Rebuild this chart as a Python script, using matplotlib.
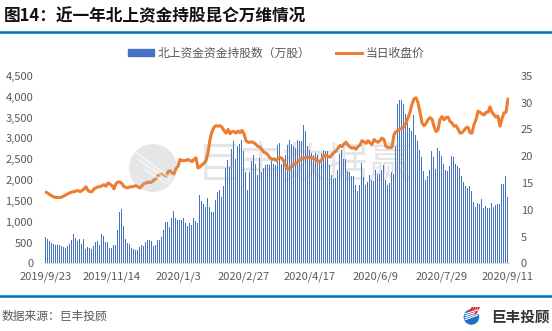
import matplotlib
matplotlib.use("Agg")
import matplotlib.pyplot as plt
from matplotlib.patches import Circle, Rectangle
from matplotlib.lines import Line2D
from matplotlib.ticker import FuncFormatter

plt.rcParams['font.family'] = ['Noto Sans CJK SC', 'DejaVu Sans']

# daily northbound holdings (10k shares), 2019/9/23 .. 2020/9/11
holdings = [
    645, 590, 540, 495, 470, 445, 445, 445, 420, 400,
    375, 420, 470, 565, 710, 610, 540, 590, 470, 590,
    350, 400, 375, 350, 420, 520, 540, 445, 710, 665,
    520, 520, 375, 375, 445, 445, 810, 1240, 1310, 900,
    590, 495, 470, 375, 350, 325, 325, 400, 445, 420,
    520, 565, 565, 540, 420, 445, 565, 565, 640, 810,
    1000, 1000, 880, 1095, 1270, 1095, 1045, 1045, 1045, 1095,
    975, 905, 975, 925, 1095, 1020, 975, 1650,
    1500, 1430, 1360, 1575, 1360, 1240, 1240, 1530, 1720, 1770,
    1600, 1865, 2300, 2490, 2320, 2755, 2925, 2515, 2805, 2875,
    2970, 2705, 2200, 1770, 2200, 2465, 2610, 2395, 2130, 2540,
    2200, 2300, 2370, 2395, 2370, 2465, 2395, 2370, 2850, 2900,
    2395, 2515, 2610, 2850, 2970, 2875, 2825, 2780, 2970, 2945,
    2945, 3310, 3165, 2805, 2730, 2660, 2610, 2660, 2610, 2465,
    2660, 2730, 2685, 2685, 2370, 2130, 2035, 2055, 2250, 2635,
    2730, 2515, 2515, 2225, 2200,
    2105, 2105, 1890, 1745, 1890, 2410, 2075, 1890, 1960, 2130,
    2010, 1985, 2250, 2155, 2155, 2250, 2370, 2010, 1880, 1930,
    2200, 2155, 2810, 3815, 3910, 3910, 3815, 3575, 3375, 3250,
    3165, 3550, 3090, 2930, 2715, 2555, 2225, 2010, 2105, 2250,
    2685, 2555, 2275, 2770, 2685, 2585, 2380, 2250, 2220, 2330,
    2585, 2555, 2380, 2330, 2300, 2105, 1960, 1850, 1800, 1865,
    1745, 1470, 1365, 1450, 1425, 1545, 1335, 1385, 1335, 1335,
    1450, 1365, 1400, 1430, 1430, 1905, 1905, 2105, 1600,
]

# closing price (yuan)
close_price = [
    13.3, 13.1, 12.8, 12.6, 12.4, 12.3, 12.3, 12.3, 12.4, 12.6,
    12.8, 13.0, 13.2, 13.3, 13.4, 13.5, 13.6, 13.4, 13.6, 13.9,
    14.3, 13.6, 13.4, 13.4, 13.9, 14.1, 14.3, 14.3, 14.5, 14.7,
    14.4, 15.0, 14.8, 14.5, 13.9, 14.9, 15.2, 15.2, 14.9, 14.3,
    14.2, 14.1, 14.3, 14.3, 14.4, 14.5, 14.3, 14.1, 14.5, 14.9,
    15.0, 15.2, 15.1, 15.2, 15.6, 15.8, 16.4, 16.6, 16.7, 16.4,
    16.2, 17.1, 17.3, 16.9, 16.7, 17.7, 18.1, 19.4, 19.2, 19.2,
    19.2, 19.4, 19.2, 19.0, 19.4, 19.7, 17.8, 18.0,
    18.4, 18.7, 19.2, 20.6, 23.1, 24.6, 25.4, 25.7, 25.6, 25.7,
    25.4, 24.8, 24.3, 25.0, 24.2, 24.6, 24.6, 24.3, 24.7, 24.4,
    24.8, 24.2, 22.9, 22.6, 22.6, 22.7, 22.5, 22.2, 21.8, 21.7,
    21.2, 20.7, 20.6, 20.2, 19.7, 19.4, 19.5, 19.2, 19.6, 19.8,
    19.6, 19.0, 18.1, 17.6, 17.8, 18.1, 18.5, 18.7, 19.0, 19.4,
    19.5, 19.7, 19.8, 19.8, 19.8, 19.7, 19.5, 19.4, 19.1, 19.0,
    19.5, 20.1, 20.2, 20.0, 19.8, 20.3, 20.7, 21.0, 21.5, 22.0,
    21.8, 22.3, 22.6, 22.1, 21.7,
    21.5, 21.6, 21.3, 21.8, 22.1, 22.9, 22.7, 22.4, 22.9, 22.5,
    22.2, 23.1, 22.8, 22.6, 22.9, 23.4, 23.1, 21.8, 21.6, 21.6,
    21.7, 24.0, 24.6, 24.8, 25.1, 25.2, 25.6, 26.2, 27.2, 28.2,
    29.7, 30.7, 30.9, 30.0, 28.2, 26.2, 25.7, 26.1, 26.8, 27.2,
    26.9, 25.6, 24.6, 24.9, 26.9, 27.4, 26.8, 27.2, 27.3, 26.5,
    26.2, 25.6, 25.7, 25.1, 24.3, 24.4, 24.8, 25.3, 25.4, 24.4,
    24.3, 25.9, 26.8, 28.4, 28.2, 27.9, 27.7, 28.2, 28.2, 29.2,
    28.2, 27.7, 27.3, 27.5, 25.6, 27.0, 28.1, 28.2, 30.7,
]

date_labels = ['2019/9/23', '2019/11/14', '2020/1/3', '2020/2/27',
               '2020/4/17', '2020/6/9', '2020/7/29', '2020/9/11']
label_step = 33

BLUE = '#4472C4'
ORANGE = '#ED7D31'
GREY = '#595959'

fig = plt.figure(figsize=(5.52, 3.31), dpi=100)
ax = fig.add_axes([0.0815, 0.204, 0.8406, 0.567])

x = list(range(len(holdings)))
ax.bar(x, holdings, width=0.5, color=BLUE, antialiased=False, zorder=2)
ax.set_xlim(-0.5, len(holdings) - 0.5)
ax.set_ylim(0, 4500)
ax.set_yticks(range(0, 4501, 500))
ax.yaxis.set_major_formatter(FuncFormatter(lambda v, p: f'{int(v):,}'))
ax.set_xticks([i * label_step for i in range(len(date_labels))])
ax.set_xticklabels(date_labels)
ax.tick_params(axis='both', length=0, labelsize=8, labelcolor=GREY)
ax.tick_params(axis='y', pad=8.5)
ax.tick_params(axis='x', pad=6)
for side in ['top', 'left', 'right']:
    ax.spines[side].set_visible(False)
ax.spines['bottom'].set_color('#D9D9D9')
ax.spines['bottom'].set_linewidth(0.8)

ax2 = ax.twinx()
ax2.plot(x, close_price, color=ORANGE, lw=2.2, solid_capstyle='round', zorder=3)
ax2.set_ylim(0, 35)
ax2.set_yticks(range(0, 36, 5))
ax2.tick_params(axis='y', length=0, labelsize=8, labelcolor=GREY, pad=8.5)
for side in ['top', 'left', 'right', 'bottom']:
    ax2.spines[side].set_visible(False)

# legend
handles = [Rectangle((0, 0), 1, 1, color=BLUE),
           Line2D([0], [0], color=ORANGE, lw=2.2)]
fig.legend(handles, ['北上资金资金持股数（万股）', '当日收盘价'],
           loc='center', bbox_to_anchor=(0.5, 0.84), ncol=2, frameon=False,
           fontsize=8.5, labelcolor=GREY, handlelength=2.2, handleheight=0.5,
           handletextpad=0.3, columnspacing=2.2)

# header and footer
fig.text(0.006, 0.952, '图14：近一年北上资金持股昆仑万维情况', fontsize=12,
         fontweight='bold', color='#111111', va='center', ha='left')
fig.add_artist(Line2D([0, 1], [0.902, 0.902], color='#0070C0', lw=1.8))
fig.add_artist(Line2D([0, 1], [0.106, 0.106], color='#0070C0', lw=1.8))
fig.text(0.002, 0.045, '数据来源：巨丰投顾', fontsize=8.5, color=GREY,
         va='center', ha='left')
fig.text(0.995, 0.045, '巨丰投顾', fontsize=10.5, fontweight='bold',
         color='#333333', va='center', ha='right')

# small logo mark
logo = fig.add_axes([0.838, 0.012, 0.032, 0.066])
logo.set_xlim(-1, 1)
logo.set_ylim(-1, 1)
logo.set_aspect('equal')
logo.axis('off')
logo.add_patch(Circle((0, -0.1), 0.8, color='#1E6FC8'))
for k in range(4):
    logo.plot([-0.3 + 0.25 * k, 0.1 + 0.25 * k], [0.3, 0.95], color='#E0262B', lw=1.2)
    logo.plot([-0.7, 0.7], [-0.4 + 0.22 * k, 0.1 + 0.2 * k], color='white', lw=0.8)

# faint watermark across the plot
wm = fig.add_axes([0.0, 0.0, 1.0, 1.0], zorder=5)
wm.set_xlim(0, 552)
wm.set_ylim(331, 0)
wm.axis('off')
wm.add_patch(Circle((153, 168), 24, color='#A6A6A6', alpha=0.28, lw=0))
for k in range(3):
    wm.plot([133 + 6 * k, 170 + 4 * k], [150 + 10 * k, 178 + 6 * k],
            color='white', alpha=0.5, lw=1.5)
wm.text(197, 166, '巨丰数据赢', fontsize=31, color='#8C8C8C', alpha=0.22,
        va='center', ha='left')

fig.savefig('out.png', dpi=100)
